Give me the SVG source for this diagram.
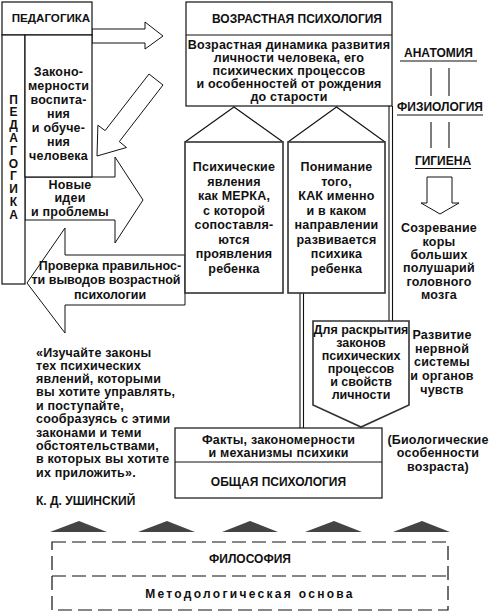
<svg xmlns="http://www.w3.org/2000/svg" width="495" height="614" viewBox="0 0 495 614">
<style>
text{font-family:"Liberation Sans",Arial,sans-serif;font-weight:bold;font-size:12.5px;letter-spacing:0.2px;fill:#111;text-anchor:middle}
.h{font-size:12px;letter-spacing:0}
.l{text-anchor:start}
.n{letter-spacing:0}
.box{fill:#fff;stroke:#111;stroke-width:1.2}
.ln{fill:none;stroke:#111;stroke-width:1.1}
.arr{fill:#fff;stroke:#111;stroke-width:1}
.house{fill:#fff;stroke:#333;stroke-width:1.6}
.dash{fill:none;stroke:#111;stroke-width:1.2;stroke-dasharray:14 6}
.tri{fill:#444}
</style>
<g id="connectors">
  <line class="ln" x1="389" y1="106" x2="389" y2="321"/>
  <line class="ln" x1="392.5" y1="106" x2="392.5" y2="321"/>
  <line class="ln" x1="300" y1="293" x2="300" y2="428"/>
  <line class="ln" x1="303.5" y1="293" x2="303.5" y2="428"/>
  <line class="ln" x1="431" y1="68" x2="431" y2="96" stroke-width="2"/>
  <line class="ln" x1="449" y1="68" x2="449" y2="96" stroke-width="2"/>
  <line class="ln" x1="431" y1="122" x2="431" y2="148" stroke-width="2"/>
  <line class="ln" x1="449" y1="122" x2="449" y2="148" stroke-width="2"/>
  <polygon class="arr" points="92,29 145,29 145,22 163,36 145,49 145,43 92,43"/>
  <polygon class="arr" points="149,74 163,85 119.3,141.6 126.5,147.5 97,156 97.9,125.2 105.1,130.6"/>
  <polygon class="arr" points="25,177 115,177 115,157 143,200 115,243 115,220 25,220"/>
  <polygon class="arr" points="185,255 65,255 65,228 27,283 65,333 65,305 185,305"/>
  <polygon class="arr" points="427,177 452,177 452,203 459,203 440,214 421,203 427,203"/>
</g>
<g id="pedagogika">
  <rect class="box" x="2" y="2" width="90" height="33"/>
  <text class="h" x="51" y="22" style="font-size:11.6px">ПЕДАГОГИКА</text>
</g>
<g id="pedagogika-col">
  <rect class="box" x="2" y="35" width="23" height="249"/>
  <text class="h" x="13.5" y="103.5">П</text>
  <text class="h" x="13.5" y="116.3">Е</text>
  <text class="h" x="13.5" y="129.1">Д</text>
  <text class="h" x="13.5" y="141.9">А</text>
  <text class="h" x="13.5" y="154.7">Г</text>
  <text class="h" x="13.5" y="167.5">О</text>
  <text class="h" x="13.5" y="180.3">Г</text>
  <text class="h" x="13.5" y="193.1">И</text>
  <text class="h" x="13.5" y="205.9">К</text>
  <text class="h" x="13.5" y="218.7">А</text>
</g>
<g id="zakonomernosti">
  <rect class="box" x="25" y="35" width="67" height="142"/>
  <text x="58.5" y="76">Законо-</text>
  <text x="58.5" y="90">мерности</text>
  <text x="58.5" y="104">воспита-</text>
  <text x="58.5" y="118">ния</text>
  <text x="58.5" y="132">и обуче-</text>
  <text x="58.5" y="146">ния</text>
  <text x="58.5" y="160">человека</text>
</g>
<g id="novye-idei">
  <text x="70" y="189">Новые</text>
  <text x="70" y="202">идеи</text>
  <text x="70" y="216">и проблемы</text>
</g>
<g id="proverka">
  <text class="n" x="110" y="270">Проверка правильнос-</text>
  <text class="n" x="106" y="284">ти выводов возрастной</text>
  <text class="n" x="110" y="299">психологии</text>
</g>
<g id="vozrastnaya">
  <rect class="box" x="186" y="2" width="206" height="104"/>
  <line class="ln" x1="186" y1="35" x2="392" y2="35"/>
  <text class="h" x="297" y="23">ВОЗРАСТНАЯ ПСИХОЛОГИЯ</text>
  <text x="289" y="49">Возрастная динамика развития</text>
  <text x="289" y="62">личности человека, его</text>
  <text x="289" y="75">психических процессов</text>
  <text x="289" y="88">и особенностей от рождения</text>
  <text x="289" y="101">до старости</text>
</g>
<g id="psihicheskie">
  <polyline class="ln" points="185,142 234,107 283,142"/>
  <rect class="house" x="185" y="142" width="98" height="151"/>
  <text x="234" y="171">Психические</text>
  <text x="234" y="185.5">явления</text>
  <text x="234" y="200">как МЕРКА,</text>
  <text x="234" y="214.5">с которой</text>
  <text x="234" y="229">сопоставля-</text>
  <text x="234" y="243.5">ются</text>
  <text x="234" y="258">проявления</text>
  <text x="234" y="272.5">ребенка</text>
</g>
<g id="ponimanie">
  <polyline class="ln" points="288,142 336.5,107 385,142"/>
  <rect class="house" x="288" y="142" width="97" height="151"/>
  <text x="336.5" y="171">Понимание</text>
  <text x="336.5" y="185.5">того,</text>
  <text x="336.5" y="200">КАК именно</text>
  <text x="336.5" y="214.5">и в каком</text>
  <text x="336.5" y="229">направлении</text>
  <text x="336.5" y="243.5">развивается</text>
  <text x="336.5" y="258">психика</text>
  <text x="336.5" y="272.5">ребенка</text>
</g>
<g id="anatomiya">
  <text class="h" x="438.5" y="57">АНАТОМИЯ</text>
  <line class="ln" x1="400" y1="61" x2="477" y2="61"/>
</g>
<g id="fiziologiya">
  <text class="h" x="440" y="111">ФИЗИОЛОГИЯ</text>
  <line class="ln" x1="397" y1="115" x2="483" y2="115"/>
</g>
<g id="gigiena">
  <text class="h" x="443" y="165">ГИГИЕНА</text>
  <line class="ln" x1="415" y1="168.5" x2="471" y2="168.5"/>
</g>
<g id="sozrevanie">
  <text x="439" y="232">Созревание</text>
  <text x="439" y="245.5">коры</text>
  <text x="439" y="259">больших</text>
  <text x="439" y="272">полушарий</text>
  <text x="439" y="285.5">головного</text>
  <text x="439" y="298.5">мозга</text>
</g>
<g id="dlya-raskrytiya">
  <polygon class="house" points="313,321 409,321 409,405 361,427 313,405"/>
  <text class="n" x="361" y="334">Для раскрытия</text>
  <text class="n" x="361" y="347">законов</text>
  <text class="n" x="361" y="360">психических</text>
  <text class="n" x="361" y="373">процессов</text>
  <text class="n" x="361" y="386">и свойств</text>
  <text class="n" x="361" y="398.5">личности</text>
</g>
<g id="razvitie">
  <text x="442" y="338.5">Развитие</text>
  <text x="442" y="352.5">нервной</text>
  <text x="442" y="366">системы</text>
  <text x="442" y="380">и органов</text>
  <text x="442" y="393.5">чувств</text>
</g>
<g id="obshaya">
  <rect class="box" x="175" y="428" width="207" height="70"/>
  <line class="ln" x1="175" y1="462" x2="382" y2="462"/>
  <text x="278.5" y="444">Факты, закономерности</text>
  <text x="278.5" y="457">и механизмы психики</text>
  <text class="h" x="278.5" y="486">ОБЩАЯ ПСИХОЛОГИЯ</text>
</g>
<g id="biologicheskie">
  <text x="438" y="443.5">(Биологические</text>
  <text x="438" y="457">особенности</text>
  <text x="438" y="470.5">возраста)</text>
</g>
<g id="quote">
  <text class="l" x="36" y="357">«Изучайте законы</text>
  <text class="l" x="36" y="370">тех психических</text>
  <text class="l" x="36" y="383">явлений, которыми</text>
  <text class="l" x="36" y="396">вы хотите управлять,</text>
  <text class="l" x="36" y="410">и поступайте,</text>
  <text class="l" x="36" y="423">сообразуясь с этими</text>
  <text class="l" x="36" y="436.5">законами и теми</text>
  <text class="l" x="36" y="450">обстоятельствами,</text>
  <text class="l" x="36" y="463">в которых вы хотите</text>
  <text class="l" x="36" y="476.5">их приложить».</text>
  <text class="l h" x="36" y="505">К. Д. УШИНСКИЙ</text>
</g>
<g id="philosophy">
  <polygon class="tri" points="50,532 79,521 107,532"/>
  <polygon class="tri" points="138,532 167,521 195,532"/>
  <polygon class="tri" points="222,532 250,521 278,532"/>
  <polygon class="tri" points="305,532 334,521 362,532"/>
  <polygon class="tri" points="393,532 422,521 450,532"/>
  <rect class="dash" x="52" y="542" width="396" height="68"/>
  <line class="dash" x1="52" y1="576" x2="448" y2="576"/>
  <text class="h" x="250" y="563">ФИЛОСОФИЯ</text>
  <text x="250" y="598" style="font-size:12px;letter-spacing:2.3px">Методологическая основа</text>
</g>
</svg>
